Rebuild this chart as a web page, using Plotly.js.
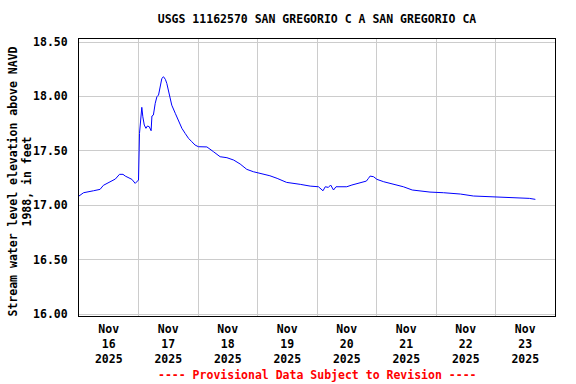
<!DOCTYPE html>
<html>
<head>
<meta charset="utf-8">
<script src="https://cdn.plot.ly/plotly-3.0.1.min.js"></script>
<style>html,body{margin:0;padding:0;background:#fff;}#chart{width:576px;height:384px;}</style>
</head>
<body>
<div id="chart"></div>
<script>
const times = [
"2025-11-16 00:00","2025-11-16 01:50","2025-11-16 05:50","2025-11-16 08:30","2025-11-16 09:50",
"2025-11-16 12:30","2025-11-16 14:40","2025-11-16 16:20","2025-11-16 17:45","2025-11-16 18:40",
"2025-11-16 19:55","2025-11-16 21:20","2025-11-16 22:40","2025-11-16 23:20","2025-11-17 00:00",
"2025-11-17 00:24","2025-11-17 01:00","2025-11-17 01:20","2025-11-17 01:45","2025-11-17 02:20",
"2025-11-17 03:00","2025-11-17 03:35","2025-11-17 04:20","2025-11-17 05:05","2025-11-17 05:25",
"2025-11-17 06:00","2025-11-17 06:45","2025-11-17 07:25","2025-11-17 08:05","2025-11-17 08:45",
"2025-11-17 09:25","2025-11-17 10:05","2025-11-17 10:50","2025-11-17 11:25","2025-11-17 12:05",
"2025-11-17 12:50","2025-11-17 13:25","2025-11-17 14:50","2025-11-17 16:10","2025-11-17 17:30",
"2025-11-17 18:50","2025-11-17 20:10","2025-11-17 21:30","2025-11-17 22:50","2025-11-18 00:10",
"2025-11-18 02:40","2025-11-18 03:35","2025-11-18 06:15","2025-11-18 08:55","2025-11-18 11:40",
"2025-11-18 14:25","2025-11-18 17:00","2025-11-18 19:40","2025-11-18 22:20","2025-11-19 01:05",
"2025-11-19 05:00","2025-11-19 07:55","2025-11-19 11:45","2025-11-19 17:15","2025-11-19 21:15",
"2025-11-20 00:35","2025-11-20 02:25","2025-11-20 03:20","2025-11-20 04:35","2025-11-20 05:30",
"2025-11-20 06:40","2025-11-20 07:40","2025-11-20 12:00","2025-11-20 14:05","2025-11-20 17:30",
"2025-11-20 19:55","2025-11-20 20:45","2025-11-20 21:25","2025-11-20 22:50","2025-11-21 00:10",
"2025-11-21 02:55","2025-11-21 06:50","2025-11-21 10:50","2025-11-21 14:25","2025-11-21 21:35",
"2025-11-22 03:05","2025-11-22 09:50","2025-11-22 15:05","2025-11-22 23:15","2025-11-23 07:10",
"2025-11-23 13:40","2025-11-23 16:05"
];
const levels = [
17.085,17.115,17.133,17.146,17.183,
17.216,17.241,17.284,17.284,17.268,
17.256,17.238,17.201,17.216,17.232,
17.66,17.783,17.90,17.813,17.737,
17.707,17.728,17.722,17.685,17.82,
17.829,17.937,17.997,18.013,18.105,
18.166,18.181,18.157,18.12,18.043,
17.982,17.92,17.845,17.767,17.707,
17.66,17.615,17.584,17.553,17.538,
17.538,17.536,17.492,17.446,17.437,
17.415,17.379,17.33,17.308,17.293,
17.271,17.247,17.21,17.192,17.176,
17.17,17.133,17.17,17.164,17.186,
17.14,17.17,17.17,17.186,17.207,
17.222,17.247,17.268,17.262,17.238,
17.216,17.195,17.17,17.14,17.121,
17.115,17.103,17.085,17.078,17.073,
17.063,17.054
];
const tickDates = ["2025-11-16 12:00","2025-11-17 12:00","2025-11-18 12:00","2025-11-19 12:00",
                   "2025-11-20 12:00","2025-11-21 12:00","2025-11-22 12:00","2025-11-23 12:00"];
const tickLabels = ["Nov<br>16<br>2025","Nov<br>17<br>2025","Nov<br>18<br>2025","Nov<br>19<br>2025",
                    "Nov<br>20<br>2025","Nov<br>21<br>2025","Nov<br>22<br>2025","Nov<br>23<br>2025"];
const titleText = "USGS 11162570 SAN GREGORIO C A SAN GREGORIO CA";
const yTitle = "Stream water level elevation above NAVD<br>1988, in feet";
const footer = "---- Provisional Data Subject to Revision ----";

const F = "DejaVu Sans Mono, monospace";
const trace = {
  x: times, y: levels, type: "scatter", mode: "lines",
  line: {color: "#0000ff", width: 1}, hoverinfo: "skip"
};
const layout = {
  width: 576, height: 384,
  margin: {l: 79, r: 21, t: 39, b: 68},
  paper_bgcolor: "#ffffff", plot_bgcolor: "#ffffff",
  showlegend: false,
  font: {family: F, size: 11.5, color: "#000000", weight: "bold"},
  title: {text: "<b>" + titleText + "</b>", font: {family: F, size: 11.5, color: "#000"},
          x: 0.5, xref: "paper", y: 1 - 19/384, yref: "container", yanchor: "middle"},
  xaxis: {
    type: "date",
    range: ["2025-11-16 00:00", "2025-11-24 00:00"],
    tickmode: "array", tickvals: tickDates, ticktext: tickLabels,
    ticks: "", showgrid: false, zeroline: false,
    showline: true, mirror: true, linecolor: "#000", linewidth: 1,
    ticklabelstandoff: 2,
    tickfont: {family: F, size: 11.5, color: "#000", weight: "bold"},
    minor: {tick0: "2025-11-16 00:00", dtick: 86400000, showgrid: true,
            gridcolor: "#cccccc", gridwidth: 1, ticks: ""}
  },
  yaxis: {
    range: [15.982, 18.528],
    tickmode: "linear", tick0: 16, dtick: 0.5, tickformat: ".2f",
    showgrid: true, gridcolor: "#cccccc", gridwidth: 1, zeroline: false,
    showline: true, mirror: true, linecolor: "#000", linewidth: 1,
    ticks: "", ticklabelstandoff: 8,
    tickfont: {family: F, size: 11.5, color: "#000", weight: "bold"}
  },
  annotations: [{
    text: footer, xref: "paper", yref: "paper", x: 0.5, y: (316 - 375) / 277,
    xanchor: "center", yanchor: "middle", showarrow: false,
    font: {family: F, size: 11.5, color: "#ff0000", weight: "bold"}
  }, {
    text: yTitle, xref: "paper", yref: "paper", x: (20 - 79) / 476, y: (316 - 181.5) / 277,
    xanchor: "center", yanchor: "middle", showarrow: false, textangle: -90,
    font: {family: F, size: 11.5, color: "#000", weight: "bold"}
  }]
};
Plotly.newPlot("chart", [trace], layout, {staticPlot: true, displayModeBar: false});
</script>
</body>
</html>
